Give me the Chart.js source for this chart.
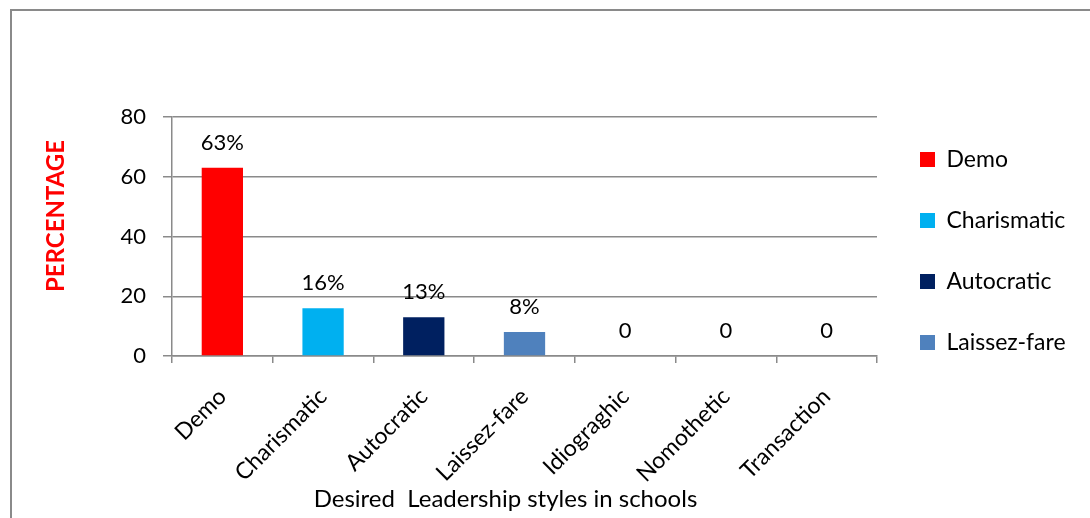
<!DOCTYPE html>
<html>
<head>
<meta charset="utf-8">
<script src="https://cdn.jsdelivr.net/npm/chart.js@4.4.0/dist/chart.umd.min.js"></script>
<style>
  html, body { margin: 0; padding: 0; background: #fff; overflow: hidden; }
  #wrap { position: relative; width: 1090px; height: 518px; }
  #frame { position: absolute; left: 10px; top: 9px; width: 1200px; height: 600px;
           border-left: 2px solid #8a8a8a; border-top: 2px solid #8a8a8a; pointer-events: none; }
  canvas { position: absolute; left: 0; top: 0; }
</style>
</head>
<body>
<div id="wrap">
  <canvas id="chart" width="1090" height="518"></canvas>
  <div id="frame"></div>
</div>
<script>
  // data
  const categories = ['Demo', 'Charismatic', 'Autocratic', 'Laissez-fare', 'Idiograghic', 'Nomothetic', 'Transaction'];
  const values = [63, 16, 13, 8, 0, 0, 0];
  const valueLabels = ['63%', '16%', '13%', '8%', '0', '0', '0'];
  const legendNames = ['Demo', 'Charismatic', 'Autocratic', 'Laissez-fare'];
  const barColors = ['#FF0000', '#00B0F0', '#002060', '#4F81BD', '#4F81BD', '#4F81BD', '#4F81BD'];
  const yTicks = [0, 20, 40, 60, 80];
  const xTitle = 'Desired  Leadership styles in schools';
  const yTitle = 'PERCENTAGE';

  const FONT = 'Lato';
  const gridGray = '#8a8a8a';
  const legendSize = 23;
  const legendPad = 38;

  // right padding so the plot stops where the legend begins
  const mctx = document.createElement('canvas').getContext('2d');
  mctx.font = legendSize + 'px ' + FONT;
  const maxText = Math.max(...legendNames.map(t => mctx.measureText(t).width));
  const legendWidth = legendPad + 15 + legendSize / 2 + maxText + 10;
  const padRight = Math.max(0, 1090 - 877 - legendWidth);

  const barValueLabels = {
    id: 'barValueLabels',
    afterDatasetsDraw(chart) {
      const ctx = chart.ctx;
      const meta = chart.getDatasetMeta(0);
      ctx.save();
      ctx.font = '22px ' + FONT;
      ctx.fillStyle = '#000';
      ctx.textAlign = 'center';
      ctx.textBaseline = 'middle';
      meta.data.forEach((bar, i) => ctx.fillText(valueLabels[i], bar.x, bar.y - 25));
      ctx.restore();
    }
  };

  const axisTitles = {
    id: 'axisTitles',
    afterDraw(chart) {
      const { ctx, chartArea: a } = chart;
      ctx.save();
      ctx.textAlign = 'center';
      ctx.textBaseline = 'middle';
      ctx.fillStyle = '#000';
      ctx.font = '24px ' + FONT;
      ctx.fillText(xTitle, (a.left + a.right) / 2 - 19, a.bottom + 143);
      ctx.translate(a.left - 116, a.top + 99);
      ctx.rotate(-Math.PI / 2);
      ctx.fillStyle = '#FF0000';
      ctx.font = 'bold 24px ' + FONT;
      ctx.fillText(yTitle, 0, 0);
      ctx.restore();
    }
  };

  // nudge the legend a little to the right, like the original
  const legendShift = {
    id: 'legendShift',
    afterLayout(chart) {
      chart.legend.left += 5;
      chart.legend.right += 5;
    }
  };

  new Chart(document.getElementById('chart'), {
    type: 'bar',
    data: {
      labels: categories,
      datasets: [{
        data: values,
        backgroundColor: barColors,
        borderWidth: 0,
        categoryPercentage: 1,
        barPercentage: 0.41
      }]
    },
    options: {
      responsive: false,
      animation: false,
      layout: { padding: { left: 0, top: 0, right: padRight, bottom: 16 } },
      plugins: {
        tooltip: { enabled: false },
        // empty title only keeps the white space above the plot
        title: { display: true, text: '', padding: { top: 107, bottom: 0 }, font: { size: 10, lineHeight: 1 } },
        legend: {
          position: 'right',
          labels: {
            boxWidth: 15,
            boxHeight: 15,
            padding: legendPad,
            color: '#000',
            font: { family: FONT, size: legendSize },
            generateLabels: () => legendNames.map((t, i) => ({
              text: t, fillStyle: barColors[i], strokeStyle: barColors[i],
              lineWidth: 0, hidden: false, index: i
            }))
          }
        }
      },
      scales: {
        x: {
          grid: { offset: true, drawOnChartArea: false, tickLength: 7, color: gridGray, lineWidth: 1.5 },
          border: { color: gridGray, width: 1.5 },
          ticks: { minRotation: 45, maxRotation: 45, padding: 20, color: '#000', font: { family: FONT, size: 23 } },
          afterFit: s => { s.height = 146; }
        },
        y: {
          min: 0,
          max: 80,
          afterBuildTicks: s => { s.ticks = yTicks.map(v => ({ value: v })); },
          grid: { tickLength: 9, color: gridGray, lineWidth: 1.5 },
          border: { color: gridGray, width: 1.5 },
          ticks: { padding: 17, color: '#000', font: { family: FONT, size: 22 } },
          afterFit: s => { s.width = 172; }
        }
      }
    },
    plugins: [barValueLabels, axisTitles, legendShift]
  });
</script>
</body>
</html>
